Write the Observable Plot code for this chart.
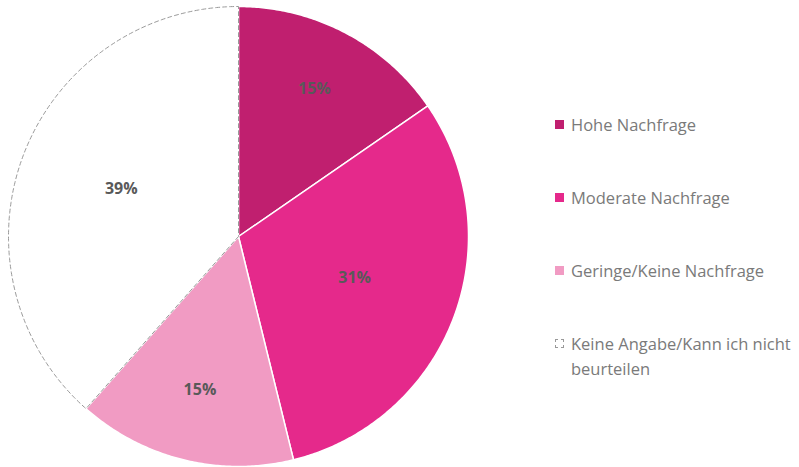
<!DOCTYPE html>
<html>
<head>
<meta charset="utf-8">
<script src="https://cdn.jsdelivr.net/npm/d3@7"></script>
<script src="https://cdn.jsdelivr.net/npm/@observablehq/plot@0.6"></script>
<style>
  html, body { margin: 0; padding: 0; background: #fff; }
  #wrap { position: relative; width: 799px; height: 467px; font-family: "Open Sans", sans-serif; }
  #chart { position: absolute; left: 0; top: 0; }
  #legend { position: absolute; left: 540px; top: 0; width: 259px; height: 467px; }
  .item { position: absolute; left: 15px; font-size: 16.5px; line-height: 25px; color: #7a7a7a; }
  .sw { position: absolute; left: 0; top: 8px; width: 9px; height: 9px; box-sizing: border-box; }
  .txt { padding-left: 16px; }
</style>
</head>
<body>
<div id="wrap">
  <div id="chart"></div>
  <div id="legend"></div>
</div>
<script>
// ---- data ----
const categories = ["Hohe Nachfrage", "Moderate Nachfrage", "Geringe/Keine Nachfrage", "Keine Angabe/Kann ich nicht beurteilen"];
const shares = [15.4, 30.8, 15.4, 38.5];
const labels = ["15%", "31%", "15%", "39%"];

// ---- styles ----
const colors = ["#C01F6F", "#E5298B", "#F19BC3", "#FFFFFF"];
const labelRadius = [0.71, 0.54, 0.70, 0.545];
const W = 540, H = 467, cx = 238, cy = 236, R = 230;

const rows = categories.map((c, i) => ({category: c, value: shares[i], label: labels[i], i}));
const arcs = d3.pie().sort(null).value(d => d.value).startAngle(0).endAngle(2 * Math.PI)(rows);

// polygon outline points for each slice (unit radius), from pie angles
const pts = [];
arcs.forEach(a => {
  const n = Math.max(2, Math.ceil((a.endAngle - a.startAngle) / (Math.PI / 360)));
  pts.push({category: a.data.category, x: 0, y: 0, i: a.data.i});
  for (let k = 0; k <= n; k++) {
    const t = a.startAngle + (a.endAngle - a.startAngle) * k / n;
    pts.push({category: a.data.category, x: Math.sin(t), y: Math.cos(t), i: a.data.i});
  }
  pts.push({category: a.data.category, x: 0, y: 0, i: a.data.i});
});
const filled = pts.filter(d => d.i < 3);
const open = pts.filter(d => d.i === 3);

const labelPts = arcs.map(a => {
  const m = (a.startAngle + a.endAngle) / 2, r = labelRadius[a.data.i];
  return {x: r * Math.sin(m), y: r * Math.cos(m), label: a.data.label};
});

const plot = Plot.plot({
  width: W, height: H,
  margin: 0,
  x: {domain: [-cx / R, (W - cx) / R], range: [0, W], axis: null},
  y: {domain: [-(H - cy) / R, cy / R], range: [H, 0], axis: null},
  color: {domain: categories, range: colors},
  style: {fontFamily: "Open Sans, sans-serif", background: "#fff"},
  marks: [
    Plot.line(open, {x: "x", y: "y", z: "category", fill: "#fff", stroke: "none", curve: "linear-closed"}),
    Plot.line(filled, {x: "x", y: "y", z: "category", fill: "category", stroke: "#fff", strokeWidth: 1.5, curve: "linear-closed"}),
    Plot.line(open, {x: "x", y: "y", z: "category", fill: "none", stroke: "#999", strokeWidth: 1, strokeDasharray: "4,3", curve: "linear-closed"}),
    Plot.text(labelPts, {x: "x", y: "y", text: "label", fill: "#595959", fontSize: 16, fontWeight: "bold", dy: -3})
  ]
});
document.getElementById("chart").appendChild(plot);

// legend
const legendTops = [112, 184.5, 257.5, 331];
const legend = document.getElementById("legend");
categories.forEach((c, i) => {
  const it = document.createElement("div");
  it.className = "item";
  it.style.top = legendTops[i] + "px";
  it.style.width = "240px";
  const sw = document.createElement("div");
  sw.className = "sw";
  if (i === 3) { sw.style.border = "1px dashed #999"; sw.style.background = "#fff"; }
  else sw.style.background = colors[i];
  const t = document.createElement("div");
  t.className = "txt";
  t.textContent = c;
  it.appendChild(sw); it.appendChild(t);
  legend.appendChild(it);
});
</script>
</body>
</html>
